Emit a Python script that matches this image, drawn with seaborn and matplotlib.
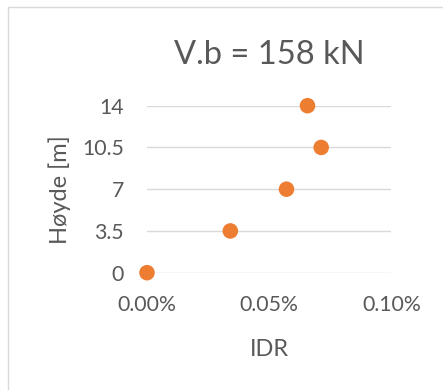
import matplotlib
matplotlib.use("Agg")
import matplotlib.pyplot as plt
import seaborn as sns
import pandas as pd
from matplotlib.ticker import PercentFormatter
from matplotlib.patches import Rectangle

heights = [0, 3.5, 7, 10.5, 14]
idr = [0.0, 0.000341, 0.000571, 0.000713, 0.000657]
height_ticks = [0, 3.5, 7, 10.5, 14]
height_labels = ["0", "3.5", "7", "10.5", "14"]
idr_ticks = [0.0, 0.0005, 0.001]
title = "V.b = 158 kN"
xlabel = "IDR"
ylabel = "Høyde [m]"

sns.set_theme(style="white")
plt.rcParams['font.family'] = ['Lato', 'DejaVu Sans']

df = pd.DataFrame({"IDR": idr, "Hoyde": heights})

fig = plt.figure(figsize=(4.43, 3.90), dpi=100)
fig.patches.append(Rectangle((8/443, -0.1), 1.2, 1 - 7/390 + 0.1, transform=fig.transFigure,
                             fill=False, edgecolor="#D9D9D9", linewidth=1.0))
ax = fig.add_axes([147/443, 1 - 272.7/390, (391.3 - 147)/443, (272.7 - 105.7)/390])

sns.scatterplot(data=df, x="IDR", y="Hoyde", ax=ax, color="#ED7D31", s=125,
                edgecolor="none", clip_on=False, zorder=3)

ax.set_xlim(0, 0.001)
ax.set_ylim(0, 14)
ax.set_xticks(idr_ticks)
ax.xaxis.set_major_formatter(PercentFormatter(xmax=1, decimals=2))
ax.set_yticks(height_ticks)
ax.set_yticklabels(height_labels)
for y in height_ticks:
    ax.axhline(y, color="#D9D9D9", linewidth=1.0, zorder=1)
for s in ax.spines.values():
    s.set_visible(False)
ax.tick_params(axis="both", length=0, labelsize=15.3, labelcolor="#595959")
ax.tick_params(axis="y", pad=16.5)
ax.tick_params(axis="x", pad=16)
ax.set_xlabel(xlabel, fontsize=17, color="#595959", labelpad=17)
ax.set_ylabel(ylabel, fontsize=17, color="#595959", labelpad=8)
ax.set_title(title, fontsize=23.5, color="#595959", pad=30)

fig.savefig("out.png", dpi=100)
